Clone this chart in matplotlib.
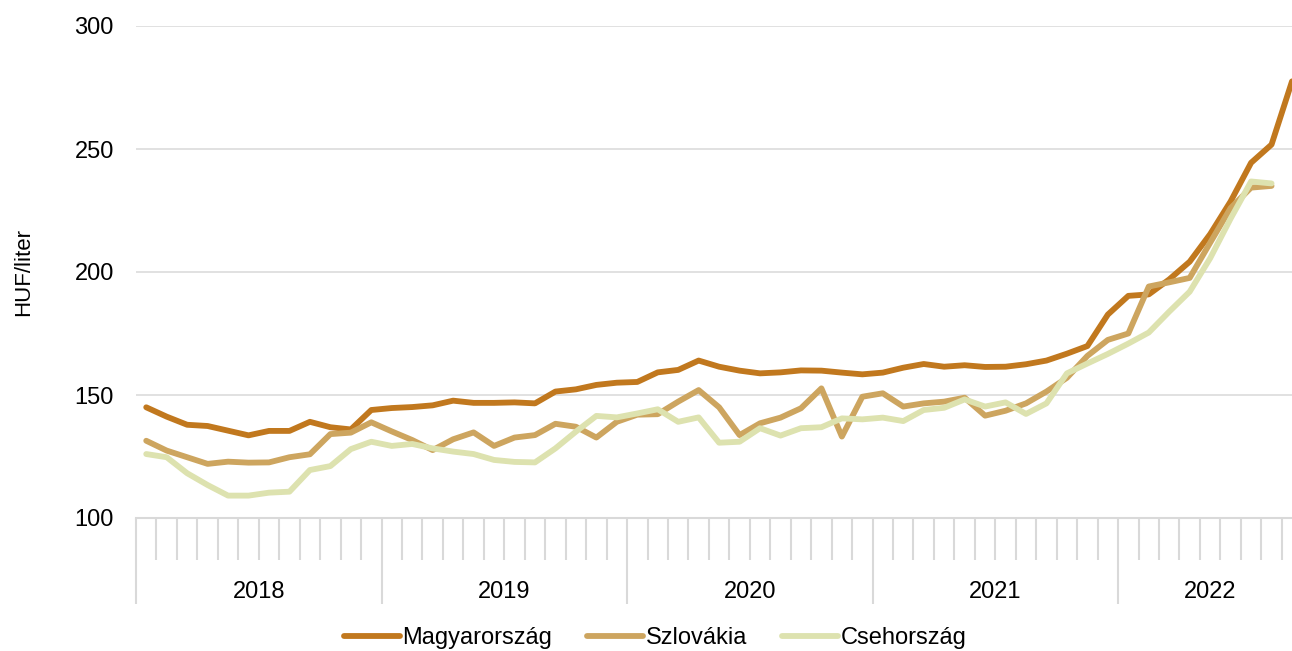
import matplotlib.pyplot as plt
import matplotlib.transforms as mtransforms
import numpy as np

plt.rcParams["font.family"] = ["Liberation Sans", "DejaVu Sans"]

# havi adatok, 2018 januártól
EVEK = ["2018", "2019", "2020", "2021", "2022"]

magyarorszag = [
    145.0, 141.2, 137.9, 137.4, 135.5, 133.6, 135.4, 135.4, 139.1, 136.9, 136.0, 143.9,
    144.7, 145.1, 145.8, 147.7, 146.8, 146.8, 147.0, 146.6, 151.4, 152.3, 154.1, 155.0,
    155.3, 159.2, 160.2, 164.0, 161.5, 159.9, 158.8, 159.2, 160.0, 159.9, 159.1, 158.4,
    159.1, 161.1, 162.6, 161.5, 162.1, 161.4, 161.5, 162.5, 164.0, 166.8, 169.9, 182.7,
    190.3, 190.9, 197.0, 204.2, 215.4, 228.7, 244.4, 251.8, 277.5,
]
szlovakia = [
    131.4, 127.4, 124.7, 122.0, 122.9, 122.5, 122.6, 124.7, 125.9, 134.1, 134.7, 138.9,
    135.2, 131.7, 127.6, 132.0, 134.8, 129.3, 132.7, 133.7, 138.3, 137.1, 132.7, 139.1,
    142.0, 142.2, 147.3, 152.0, 145.0, 133.7, 138.5, 140.8, 144.6, 152.7, 133.1, 149.3,
    150.7, 145.3, 146.6, 147.3, 148.9, 141.6, 143.6, 146.6, 151.4, 157.0, 165.9, 172.4,
    175.0, 194.1, 195.8, 197.6, 211.9, 226.0, 234.3, 235.0,
]
csehorszag = [
    126.0, 124.7, 118.2, 113.4, 109.1, 109.1, 110.3, 110.7, 119.5, 121.1, 128.0, 131.0,
    129.3, 130.1, 128.3, 127.0, 126.0, 123.6, 122.8, 122.6, 128.3, 135.1, 141.5, 140.9,
    142.5, 144.2, 139.1, 140.9, 130.6, 131.0, 136.5, 133.5, 136.5, 136.9, 140.5, 140.1,
    140.8, 139.4, 143.9, 144.8, 148.2, 145.3, 147.0, 142.3, 146.6, 158.8, 162.8, 166.7,
    170.9, 175.4, 183.9, 192.0, 205.6, 221.7, 236.8, 236.0,
]

SZINEK = ["#C1781E", "#CDA55F", "#DDE2AF"]
RACS = "#D9D9D9"
W, H = 1292, 651
BETU = 17

fig = plt.figure(figsize=(W / 100, H / 100), dpi=100)
ax = fig.add_axes([136 / W, 133 / H, (W - 136) / W, 492 / H])

sorok = [
    ("Magyarország", magyarorszag),
    ("Szlovákia", szlovakia),
    ("Csehország", csehorszag),
]
for (nev, ertekek), szin in zip(sorok, SZINEK):
    ax.plot(np.arange(len(ertekek)), ertekek, color=szin, lw=4.2, label=nev,
            solid_capstyle="round", solid_joinstyle="round")

n_honap = len(magyarorszag)
ax.set_xlim(-0.5, n_honap - 1)
ax.set_ylim(100, 300)
ax.set_yticks([100, 150, 200, 250, 300])
ax.grid(axis="y", color=RACS, lw=1.1)
ax.set_axisbelow(True)

for s in ["top", "right", "left"]:
    ax.spines[s].set_visible(False)
ax.spines["bottom"].set_color(RACS)
ax.spines["bottom"].set_linewidth(1.5)

ax.tick_params(axis="y", length=0, labelsize=BETU, pad=16)
ax.set_ylabel("HUF/liter", fontsize=BETU - 1)
ax.yaxis.set_label_coords(-0.088, 0.5)

# havi és éves osztások az x tengelyen
honap_hatarok = np.arange(n_honap) - 0.5
ev_hatarok = np.arange(0, n_honap, 12) - 0.5
ax.set_xticks(honap_hatarok, minor=True)
ax.set_xticks(ev_hatarok)
ax.set_xticklabels([])
ax.tick_params(axis="x", which="minor", length=30, width=1.5, color=RACS)
ax.tick_params(axis="x", which="major", length=62, width=1.5, color=RACS)

trans = mtransforms.blended_transform_factory(ax.transData, ax.transAxes)
for k, ev in enumerate(EVEK):
    eleje = k * 12 - 0.5
    vege = min((k + 1) * 12, n_honap) - 0.5
    ax.text((eleje + vege) / 2, -0.15, ev, transform=trans,
            ha="center", va="center", fontsize=BETU)

fig.legend(loc="center", bbox_to_anchor=(0.507, 0.02), ncol=3, frameon=False,
           fontsize=BETU, handlelength=2.37, handletextpad=0.1, columnspacing=1.5,
           borderaxespad=0)

fig.savefig("out.png", dpi=100)
